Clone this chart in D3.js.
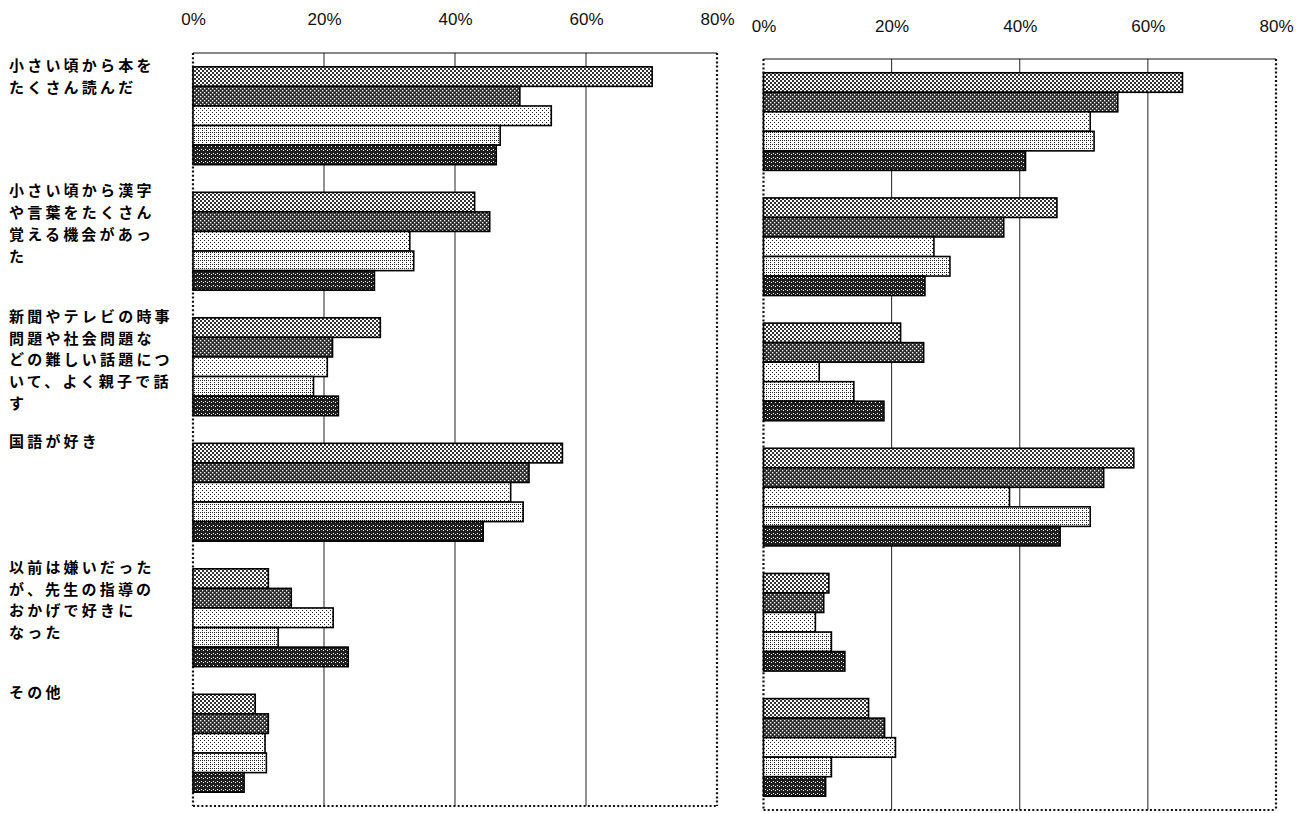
<!DOCTYPE html>
<html><head><meta charset="utf-8">
<script src="https://cdn.jsdelivr.net/npm/d3@7"></script>
<style>html,body{margin:0;padding:0;background:#fff;} svg{display:block}</style>
</head><body><svg id="chart" width="1307" height="813"></svg>
<script>
// ---- data ----
const categories = ["小さい頃から本をたくさん読んだ","小さい頃から漢字や言葉をたくさん覚える機会があった","新聞やテレビの時事問題や社会問題などの難しい話題について、よく親子で話す","国語が好き","以前は嫌いだったが、先生の指導のおかげで好きになった","その他"];
const categoryLines = [
  ["小さい頃から本を","たくさん読んだ"],
  ["小さい頃から漢字","や言葉をたくさん","覚える機会があっ","た"],
  ["新聞やテレビの時事","問題や社会問題な","どの難しい話題につ","いて、よく親子で話","す"],
  ["国語が好き"],
  ["以前は嫌いだった","が、先生の指導の","おかげで好きに","なった"],
  ["その他"]
];
const seriesKeys = ["s1","s2","s3","s4","s5"];
// left panel values (%)
const leftS1 = [70.1, 43.0, 28.6, 56.4, 11.5, 9.5];
const leftS2 = [49.9, 45.3, 21.3, 51.3, 15.0, 11.5];
const leftS3 = [54.7, 33.1, 20.5, 48.5, 21.4, 11.0];
const leftS4 = [46.9, 33.7, 18.4, 50.4, 13.0, 11.2];
const leftS5 = [46.3, 27.7, 22.2, 44.3, 23.7, 7.8];
// right panel values (%)
const rightS1 = [65.4, 45.8, 21.4, 57.8, 10.2, 16.4];
const rightS2 = [55.3, 37.5, 25.0, 53.1, 9.4, 18.9];
const rightS3 = [51.0, 26.6, 8.7, 38.4, 8.1, 20.6];
const rightS4 = [51.6, 29.1, 14.1, 51.0, 10.6, 10.6];
const rightS5 = [40.9, 25.2, 18.8, 46.3, 12.7, 9.7];
const tickValues = [0, 20, 40, 60, 80];
const tickLabels = ["0%","20%","40%","60%","80%"];

// ---- layout ----
const svg = d3.select("#chart");
svg.append("rect").attr("width",1307).attr("height",813).attr("fill","#fff");

const defs = svg.append("defs");
function pat(id, size, bg, fg, dots) {
  const p = defs.append("pattern").attr("id", id).attr("patternUnits","userSpaceOnUse")
    .attr("width", size).attr("height", size);
  p.append("rect").attr("width", size).attr("height", size).attr("fill", bg);
  dots.forEach(d => p.append("rect").attr("x", d[0]).attr("y", d[1])
    .attr("width", d[2]).attr("height", d[2]).attr("fill", fg));
}
pat("p0", 4, "#ffffff", "#333333", [[0,0,2],[2,2,2]]);
pat("p1", 4, "#2e2e2e", "#ffffff", [[0,0,1.3],[2,2,1.3]]);
pat("p2", 4, "#ffffff", "#222222", [[0,0,1],[2,2,1]]);
pat("p3", 4, "#ffffff", "#222222", [[0,0,1],[2,2,1],[2,0,1]]);
pat("p4", 4, "#1e1e1e", "#ffffff", [[1,1,1],[3,2,1]]);

const panels = [
  {x0:193, x1:717, y0:53, y1:806, tickY:25, data:[leftS1,leftS2,leftS3,leftS4,leftS5]},
  {x0:763.5, x1:1276, y0:59, y1:810, tickY:32, data:[rightS1,rightS2,rightS3,rightS4,rightS5]}
];

panels.forEach(P => {
  const g = svg.append("g");
  const x = d3.scaleLinear().domain([0,80]).range([P.x0, P.x1]);
  const y = d3.scaleBand().domain(d3.range(categories.length)).range([P.y0, P.y1])
    .paddingInner(0.22).paddingOuter(0.11);
  const ys = d3.scaleBand().domain(seriesKeys).range([0, y.bandwidth()]);

  // gridlines
  g.selectAll("line.grid").data(tickValues.filter(v => v > 0 && v < 80)).join("line")
    .attr("x1", d => x(d)).attr("x2", d => x(d))
    .attr("y1", P.y0).attr("y2", P.y1)
    .attr("stroke", "#222").attr("stroke-width", 1);

  // frame
  g.append("line").attr("x1", x(0)).attr("x2", x(80)).attr("y1", P.y0).attr("y2", P.y0)
    .attr("stroke","#111").attr("stroke-width",1.2);
  [[x(0),P.y0,x(0),P.y1],[x(80),P.y0,x(80),P.y1],[x(0),P.y1,x(80),P.y1]].forEach(c => {
    g.append("line").attr("x1",c[0]).attr("y1",c[1]).attr("x2",c[2]).attr("y2",c[3])
      .attr("stroke","#111").attr("stroke-width",2.2).attr("stroke-dasharray","2,2.2");
  });

  // axis labels
  const axis = d3.axisTop(x).tickValues(tickValues)
    .tickFormat((d,i) => tickLabels[i]).tickSize(0).tickPadding(0);
  const ax = g.append("g").attr("transform", `translate(0,${P.tickY})`).call(axis);
  ax.select(".domain").remove();
  ax.selectAll("text").attr("font-family","'Liberation Sans', Arial, sans-serif")
    .attr("font-size", 17).attr("fill","#111").attr("dy", 0);

  // bars
  categories.forEach((c, i) => {
    seriesKeys.forEach((k, j) => {
      const v = P.data[j][i];
      g.append("rect")
        .attr("x", x(0)).attr("y", y(i) + ys(k))
        .attr("width", x(v) - x(0)).attr("height", ys.bandwidth())
        .attr("fill", `url(#p${j})`).attr("stroke", "#000").attr("stroke-width", 1.6);
    });
  });
});

// category labels (left side)
const yl = d3.scaleBand().domain(d3.range(categories.length)).range([53, 806])
  .paddingInner(0.22).paddingOuter(0.11);
categoryLines.forEach((lines, i) => {
  const t = svg.append("text")
    .attr("font-family","'Noto Sans CJK JP', sans-serif")
    .attr("font-size", 15).attr("font-weight", 600).attr("fill", "#000")
    .attr("letter-spacing", "3.2px");
  lines.forEach((ln, k) => {
    t.append("tspan").attr("x", 9).attr("y", yl(i) + 4 + k * 21.8).text(ln);
  });
});
</script>
</body></html>
